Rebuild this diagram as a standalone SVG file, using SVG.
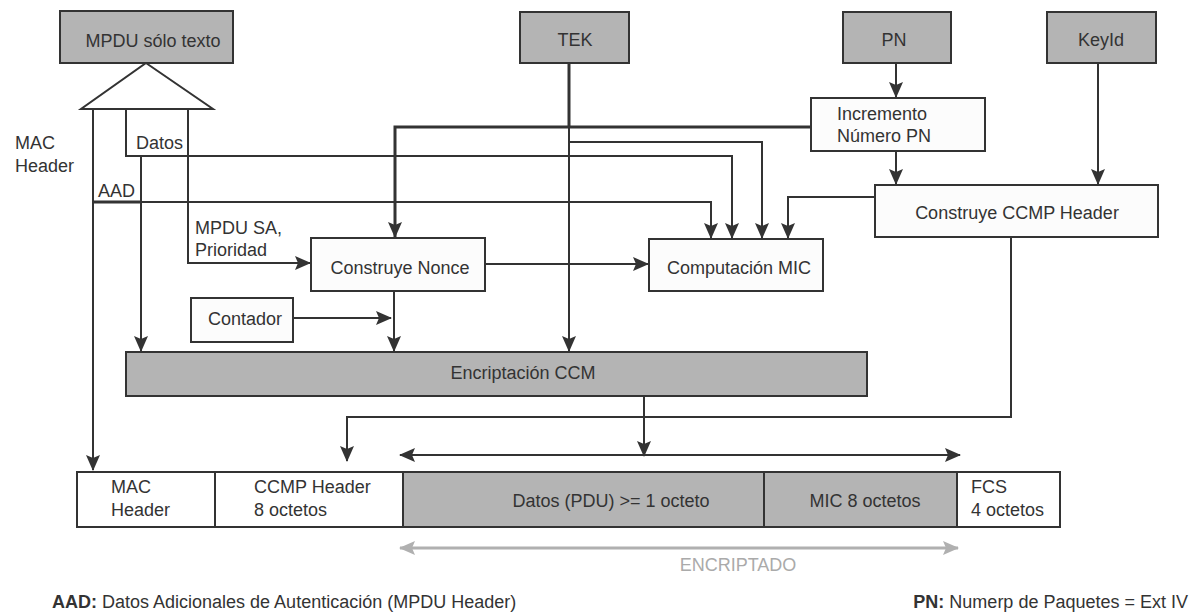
<svg xmlns="http://www.w3.org/2000/svg" width="1203" height="612" viewBox="0 0 1203 612">
<defs>
<style>
text{font-family:"Liberation Sans",Arial,sans-serif;font-size:18px;fill:#333}
.c{text-anchor:middle}
.gbox{fill:#b4b4b4;stroke:#333;stroke-width:2}
.wbox{fill:#fcfcfc;stroke:#333;stroke-width:2}
.ln{fill:none;stroke:#333;stroke-width:2}
.thk{fill:none;stroke:#333;stroke-width:3}
.ar{marker-end:url(#ah)}
.gl{fill:none;stroke:#b0b0b0;stroke-width:3;marker-end:url(#ahg);marker-start:url(#ahgs)}
</style>
<marker id="ah" markerUnits="userSpaceOnUse" markerWidth="16" markerHeight="14" viewBox="0 0 16 14" refX="15" refY="7" orient="auto">
<path d="M0,0 L16,7 L0,14 L3,7 z" fill="#333"/>
</marker>
<marker id="ahs" markerUnits="userSpaceOnUse" markerWidth="16" markerHeight="14" viewBox="0 0 16 14" refX="1" refY="7" orient="auto">
<path d="M16,0 L0,7 L16,14 L13,7 z" fill="#333"/>
</marker>
<marker id="ahg" markerUnits="userSpaceOnUse" markerWidth="16" markerHeight="14" viewBox="0 0 16 14" refX="15" refY="7" orient="auto">
<path d="M0,0 L16,7 L0,14 L3,7 z" fill="#b0b0b0"/>
</marker>
<marker id="ahgs" markerUnits="userSpaceOnUse" markerWidth="16" markerHeight="14" viewBox="0 0 16 14" refX="1" refY="7" orient="auto">
<path d="M16,0 L0,7 L16,14 L13,7 z" fill="#b0b0b0"/>
</marker>
</defs>
<rect width="1203" height="612" fill="#fff"/>

<g id="connectors">
<!-- triangle splitter -->
<path d="M146,63 L213,109 L81,109 Z" fill="#fff" stroke="#333" stroke-width="2"/>
<!-- MAC header line -->
<path class="ln ar" d="M93,109 V470"/>
<!-- Datos line -->
<path class="ln ar" d="M126,109 V156 H732 V238"/>
<path class="ln ar" d="M141,156 V351"/>
<!-- AAD line -->
<path class="thk" d="M93,202 H141"/>
<path class="ln ar" d="M141,202 H711 V238"/>
<!-- MPDU SA line -->
<path class="ln ar" d="M188,109 V263 H310"/>
<!-- TEK -->
<path class="thk" d="M569,63 V127"/>
<path class="ln ar" d="M569,127 V351"/>
<path class="ln ar" d="M569,142 H762 V238"/>
<!-- Incremento -> Nonce -->
<path class="thk ar" d="M811,127 H395 V237"/>
<!-- PN -> Incremento -> CCMP -->
<path class="ln ar" d="M896,63 V97"/>
<path class="ln ar" d="M896,151 V184"/>
<!-- KeyId -> CCMP -->
<path class="ln ar" d="M1098,63 V184"/>
<!-- CCMP -> MIC -->
<path class="ln ar" d="M875,197 H788 V238"/>
<!-- Nonce -> MIC -->
<path class="ln ar" d="M485,264 H648"/>
<!-- Nonce -> Enc -->
<path class="ln ar" d="M394,291 V351"/>
<!-- Contador -> -->
<path class="ln ar" d="M293,318 H391"/>
<!-- Enc output -->
<path class="ln ar" d="M644,396 V456"/>
<!-- CCMP header down -->
<path class="ln ar" d="M1011,237 V417 H347 V461"/>
<!-- double arrow -->
<path class="ln" d="M400,455 H960" marker-end="url(#ah)" marker-start="url(#ahs)"/>
<!-- encrypted arrow -->
<path class="gl" d="M400,548 H958"/>
</g>

<g id="mpdu">
<rect class="gbox" x="60" y="11" width="173" height="52"/>
<text class="c" x="153" y="47">MPDU sólo texto</text>
</g>
<g id="tek">
<rect class="gbox" x="520" y="12" width="109" height="51"/>
<text class="c" x="575" y="46">TEK</text>
</g>
<g id="pn">
<rect class="gbox" x="843" y="12" width="108" height="51"/>
<text class="c" x="894" y="46">PN</text>
</g>
<g id="keyid">
<rect class="gbox" x="1047" y="12" width="109" height="51"/>
<text class="c" x="1101" y="46">KeyId</text>
</g>
<g id="labels">
<text x="15" y="149">MAC</text>
<text x="15" y="172">Header</text>
<text x="136" y="149">Datos</text>
<text x="98" y="197">AAD</text>
<text x="195" y="234">MPDU SA,</text>
<text x="195" y="256">Prioridad</text>
</g>
<g id="incremento">
<rect class="wbox" x="811" y="98" width="174" height="53"/>
<text x="837" y="120">Incremento</text>
<text x="837" y="142">Número PN</text>
</g>
<g id="ccmp">
<rect class="wbox" x="875" y="185" width="283" height="52"/>
<text class="c" x="1017" y="219">Construye CCMP Header</text>
</g>
<g id="nonce">
<rect class="wbox" x="311" y="238" width="174" height="53"/>
<text class="c" x="400" y="274">Construye Nonce</text>
</g>
<g id="mic">
<rect class="wbox" x="649" y="239" width="174" height="52"/>
<text class="c" x="739" y="274">Computación MIC</text>
</g>
<g id="contador">
<rect class="wbox" x="191" y="298" width="102" height="44"/>
<text class="c" x="245" y="325">Contador</text>
</g>
<g id="encriptacion">
<rect class="gbox" x="126" y="352" width="741" height="44"/>
<text class="c" x="523" y="379">Encriptación CCM</text>
</g>
<g id="frame">
<rect x="77" y="472" width="138" height="55" fill="#fff" stroke="#333" stroke-width="2"/>
<rect x="215" y="472" width="188" height="55" fill="#fff" stroke="#333" stroke-width="2"/>
<rect x="403" y="472" width="361" height="55" fill="#b4b4b4" stroke="#333" stroke-width="2"/>
<rect x="764" y="472" width="193" height="55" fill="#b4b4b4" stroke="#333" stroke-width="2"/>
<rect x="957" y="472" width="103" height="55" fill="#fff" stroke="#333" stroke-width="2"/>
<text x="111" y="493">MAC</text>
<text x="111" y="516">Header</text>
<text x="254" y="493">CCMP Header</text>
<text x="254" y="516">8 octetos</text>
<text class="c" x="611" y="507">Datos (PDU) &gt;= 1 octeto</text>
<text class="c" x="865" y="507">MIC 8 octetos</text>
<text x="971" y="493">FCS</text>
<text x="971" y="516">4 octetos</text>
</g>
<g id="captions">
<text class="c" x="738" y="571" style="fill:#aaa">ENCRIPTADO</text>
<text x="52" y="608"><tspan font-weight="bold">AAD:</tspan> Datos Adicionales de Autenticación (MPDU Header)</text>
<text x="1188" y="608" text-anchor="end"><tspan font-weight="bold">PN:</tspan> Numerp de Paquetes = Ext IV</text>
</g>
</svg>
